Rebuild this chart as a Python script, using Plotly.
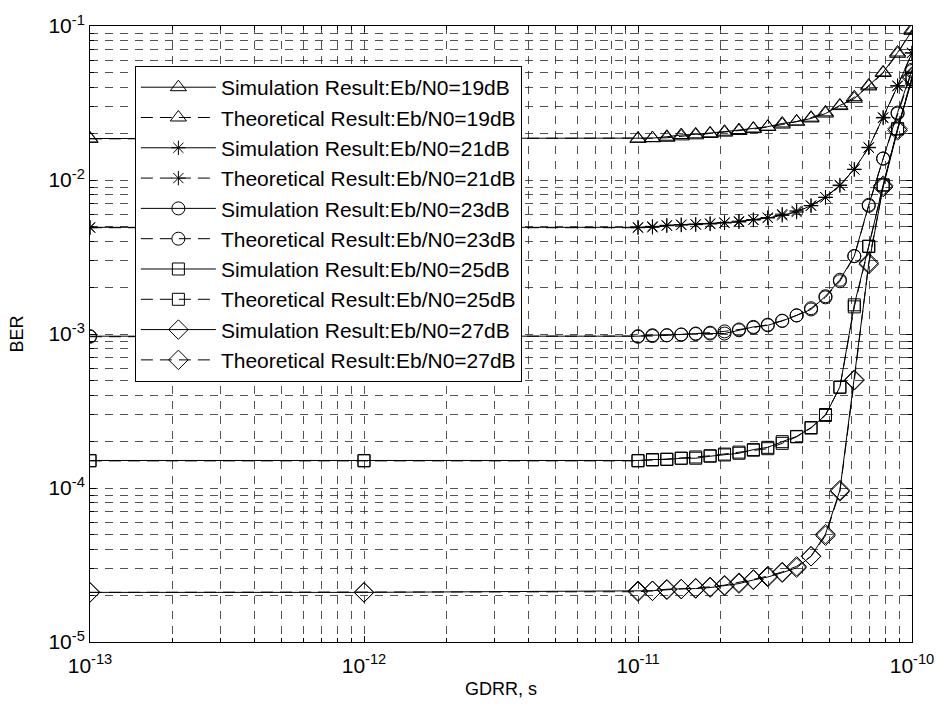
import plotly.graph_objects as go

# GDRR values (s)
gdrr = [1e-13, 1e-12,
        1.0e-11, 1.129e-11, 1.274e-11, 1.438e-11, 1.624e-11, 1.833e-11, 2.069e-11,
        2.336e-11, 2.637e-11, 2.976e-11, 3.360e-11, 3.793e-11, 4.281e-11, 4.833e-11,
        5.456e-11, 6.158e-11, 6.952e-11, 7.848e-11, 8.859e-11, 1.0e-10]

sim_19 = [0.0186, 0.0186, 0.0186, 0.0187, 0.0191, 0.0196, 0.0198, 0.0201, 0.0206, 0.0211,
          0.0216, 0.0222, 0.0233, 0.0239, 0.0251, 0.0270, 0.0305, 0.0337, 0.0411, 0.0500,
          0.0673, 0.093]
theo_19 = [0.0185, 0.0185, 0.0185, 0.0187, 0.0188, 0.0192, 0.0195, 0.0199, 0.0203, 0.0208,
           0.0214, 0.0221, 0.0229, 0.0240, 0.0254, 0.0275, 0.0302, 0.0345, 0.0405, 0.0495,
           0.0660, 0.095]
sim_21 = [0.00493, 0.00493, 0.00493, 0.00493, 0.00508, 0.00513, 0.00513, 0.00518, 0.00526,
          0.00534, 0.00553, 0.00567, 0.00589, 0.00619, 0.00683, 0.00773, 0.00927, 0.01175,
          0.0162, 0.0255, 0.0407, 0.0667]
theo_21 = [0.0049, 0.0049, 0.0049, 0.0050, 0.00505, 0.0051, 0.00516, 0.00522, 0.0053, 0.0054,
           0.0055, 0.0057, 0.0060, 0.0063, 0.0068, 0.0077, 0.0092, 0.0117, 0.0163, 0.0253,
           0.0410, 0.0670]
sim_23 = [9.68e-4, 9.68e-4, 9.68e-4, 9.82e-4, 9.82e-4, 9.93e-4, 1.007e-3, 1.007e-3, 1.007e-3,
          1.057e-3, 1.112e-3, 1.139e-3, 1.216e-3, 1.321e-3, 1.443e-3, 1.759e-3, 2.25e-3,
          3.21e-3, 6.90e-3, 1.377e-2, 2.74e-2, 5.21e-2]
theo_23 = [9.6e-4, 9.6e-4, 9.6e-4, 9.7e-4, 9.8e-4, 9.9e-4, 1.0e-3, 1.02e-3, 1.04e-3, 1.07e-3,
           1.10e-3, 1.15e-3, 1.22e-3, 1.32e-3, 1.47e-3, 1.73e-3, 2.2e-3, 3.2e-3, 6.8e-3,
           1.38e-2, 2.7e-2, 5.1e-2]
sim_25 = [1.509e-4, 1.509e-4, 1.509e-4, 1.531e-4, 1.531e-4, 1.561e-4, 1.561e-4, 1.608e-4,
          1.639e-4, 1.681e-4, 1.776e-4, 1.837e-4, 1.999e-4, 2.162e-4, 2.47e-4, 2.96e-4,
          4.53e-4, 1.547e-3, 3.72e-3, 9.27e-3, 2.15e-2, 4.50e-2]
theo_25 = [1.5e-4, 1.5e-4, 1.5e-4, 1.52e-4, 1.54e-4, 1.56e-4, 1.59e-4, 1.62e-4, 1.66e-4,
           1.71e-4, 1.76e-4, 1.80e-4, 1.95e-4, 2.15e-4, 2.45e-4, 3.0e-4, 4.5e-4, 1.5e-3,
           3.7e-3, 9.3e-3, 2.15e-2, 4.6e-2]
sim_27 = [2.1e-5, 2.1e-5, 2.149e-5, 2.149e-5, 2.203e-5, 2.203e-5, 2.223e-5, 2.256e-5,
          2.314e-5, 2.394e-5, 2.529e-5, 2.643e-5, 2.818e-5, 3.034e-5, 3.607e-5, 5.018e-5,
          9.68e-5, 5.05e-4, 2.84e-3, 9.0e-3, 2.1e-2, 4.6e-2]
theo_27 = [2.1e-5, 2.1e-5, 2.12e-5, 2.15e-5, 2.18e-5, 2.21e-5, 2.24e-5, 2.28e-5, 2.34e-5,
           2.43e-5, 2.55e-5, 2.68e-5, 2.85e-5, 3.1e-5, 3.6e-5, 4.9e-5, 9.5e-5, 5.0e-4,
           2.9e-3, 9.2e-3, 2.15e-2, 4.7e-2]

series = [
    ("Simulation Result:Eb/N0=19dB", sim_19, "triangle-up-open", 14, "solid"),
    ("Theoretical Result:Eb/N0=19dB", theo_19, "triangle-up-open", 14, "dash"),
    ("Simulation Result:Eb/N0=21dB", sim_21, "asterisk-open", 12, "solid"),
    ("Theoretical Result:Eb/N0=21dB", theo_21, "asterisk-open", 12, "dash"),
    ("Simulation Result:Eb/N0=23dB", sim_23, "circle-open", 13, "solid"),
    ("Theoretical Result:Eb/N0=23dB", theo_23, "circle-open", 13, "dash"),
    ("Simulation Result:Eb/N0=25dB", sim_25, "square-open", 12, "solid"),
    ("Theoretical Result:Eb/N0=25dB", theo_25, "square-open", 12, "dash"),
    ("Simulation Result:Eb/N0=27dB", sim_27, "diamond-open", 15, "solid"),
    ("Theoretical Result:Eb/N0=27dB", theo_27, "diamond-open", 15, "dash"),
]

x_major = [1e-13, 1e-12, 1e-11, 1e-10]
x_major_text = ["10<sup>-13</sup>", "10<sup>-12</sup>", "10<sup>-11</sup>", "10<sup>-10</sup>"]
y_major = [1e-5, 1e-4, 1e-3, 1e-2, 1e-1]
y_major_text = ["10<sup>-5</sup>", "10<sup>-4</sup>", "10<sup>-3</sup>", "10<sup>-2</sup>", "10<sup>-1</sup>"]
digits = [2, 3, 4, 5, 6, 7, 8, 9]
x_minor = [d * m for m in [1e-13, 1e-12, 1e-11] for d in digits]
y_minor = [d * m for m in [1e-5, 1e-4, 1e-3, 1e-2] for d in digits]

fig = go.Figure()
for name, vals, sym, size, dash in series:
    fig.add_trace(go.Scatter(
        x=gdrr, y=vals, name=name, mode="lines+markers",
        line=dict(color="black", width=1, dash="12px,7px" if dash == "dash" else "solid"),
        marker=dict(symbol=sym, size=size, color="black", line=dict(color="black", width=1)),
    ))

grid_col = "rgba(40,40,40,0.8)"
font_family = "Liberation Sans, Arial, sans-serif"

fig.update_layout(
    width=946, height=711,
    margin=dict(l=90, r=32, t=19, b=69),
    paper_bgcolor="white", plot_bgcolor="white",
    font=dict(family=font_family, size=18, color="black"),
    showlegend=True,
    legend=dict(
        x=0.0546, y=0.935, xanchor="left", yanchor="top",
        bgcolor="white", bordercolor="black", borderwidth=1,
        font=dict(family=font_family, size=21, color="black"),
        itemwidth=75, tracegroupgap=0,
    ),
    xaxis=dict(
        type="log", range=[-13, -10],
        tickmode="array", tickvals=x_major, ticktext=x_major_text,
        tickfont=dict(family=font_family, size=21, color="black"),
        ticklabelstandoff=5,
        ticks="inside", ticklen=6, tickcolor="black",
        showline=True, linecolor="black", linewidth=1, mirror="ticks",
        showgrid=True, gridcolor=grid_col, griddash="8px,7px", gridwidth=1,
        minor=dict(tickmode="array", tickvals=x_minor, ticks="inside", ticklen=4,
                   tickcolor="black", showgrid=True, gridcolor=grid_col,
                   griddash="8px,7px", gridwidth=1),
        title=dict(text="GDRR, s", font=dict(family=font_family, size=18), standoff=6),
        zeroline=False,
    ),
    yaxis=dict(
        type="log", range=[-5, -1],
        tickmode="array", tickvals=y_major, ticktext=y_major_text,
        tickfont=dict(family=font_family, size=21, color="black"),
        ticks="inside", ticklen=6, tickcolor="black",
        showline=True, linecolor="black", linewidth=1, mirror="ticks",
        showgrid=True, gridcolor=grid_col, griddash="8px,7px", gridwidth=1,
        minor=dict(tickmode="array", tickvals=y_minor, ticks="inside", ticklen=4,
                   tickcolor="black", showgrid=True, gridcolor=grid_col,
                   griddash="8px,7px", gridwidth=1),
        title=dict(text="BER", font=dict(family=font_family, size=18), standoff=20),
        zeroline=False,
    ),
)

fig.write_html("out.html")
